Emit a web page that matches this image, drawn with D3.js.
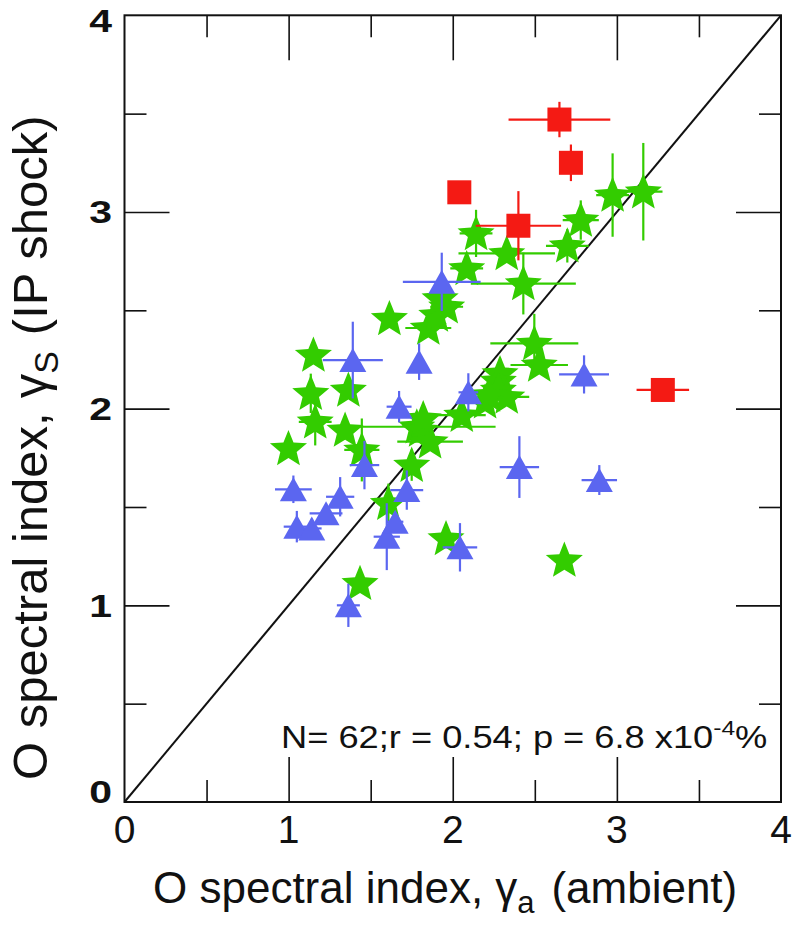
<!DOCTYPE html>
<html>
<head>
<meta charset="utf-8">
<script src="https://cdn.jsdelivr.net/npm/d3@7"></script>
<style>
  html, body { margin: 0; padding: 0; background: #fff; }
  svg { display: block; }
  text { font-family: "Liberation Sans", Arial, Helvetica, sans-serif; fill: #111; }
</style>
</head>
<body>
<svg id="chart" width="795" height="929"></svg>
<script>
// ---------- data ----------
const xTickLabels = ["0", "1", "2", "3", "4"];
const yTickLabels = ["0", "1", "2", "3", "4"];
const majorTicks = [1, 2, 3];
const minorTicks = [0.5, 1.5, 2.5, 3.5];

// Green stars
const greenX    = [2.68, 2.497, 2.527, 2.288, 2.278, 2.278, 2.329, 2.197, 2.055, 1.959, 3.161, 2.974, 2.78, 2.698, 2.142, 2.329, 2.43, 2.085, 1.963, 1.614, 1.151, 1.135, 1.364, 1.162, 1.851, 1.903, 1.923, 1.781, 0.999, 1.344, 1.446, 1.801, 1.862, 1.75, 1.608, 1.435, 2.22, 1.82];
const greenY    = [1.23, 2.332, 2.222, 2.179, 2.14, 2.095, 2.06, 2.035, 1.967, 1.34, 3.103, 3.086, 2.959, 2.828, 2.891, 2.789, 2.636, 2.713, 2.518, 2.459, 2.273, 2.078, 2.095, 1.933, 2.41, 2.476, 2.56, 1.908, 1.798, 1.891, 1.79, 1.891, 1.832, 1.713, 1.519, 1.112, 2.07, 1.95];
const greenXErr = [0, 0.268, 0.175, 0, 0, 0, 0.137, 0, 0.146, 0, 0.117, 0.1, 0.11, 0.13, 0.1, 0.294, 0.32, 0.1, 0.1, 0, 0, 0, 0, 0.1, 0.14, 0, 0, 0.48, 0, 0, 0.107, 0, 0.2, 0, 0, 0, 0, 0];
const greenYErr = [0, 0.15, 0, 0.08, 0, 0, 0, 0, 0, 0, 0.248, 0.212, 0.1, 0.085, 0.12, 0, 0.157, 0, 0, 0, 0, 0.1, 0, 0.12, 0, 0, 0, 0, 0, 0, 0.16, 0, 0, 0.08, 0.1, 0, 0, 0];

// Blue triangles
const blueX    = [2.8, 2.406, 2.893, 2.044, 2.095, 1.029, 1.05, 1.141, 1.228, 1.314, 1.462, 1.598, 1.649, 1.72, 1.364, 1.933, 1.391, 1.795, 1.673];
const blueY    = [2.174, 1.703, 1.637, 1.295, 2.083, 1.59, 1.4, 1.391, 1.468, 1.552, 1.713, 1.349, 1.425, 1.586, 1.0, 2.645, 2.247, 2.239, 2.01];
const blueXErr = [0.152, 0.12, 0.108, 0.105, 0.06, 0.112, 0.08, 0.06, 0.1, 0.086, 0.09, 0.08, 0.05, 0.1, 0.07, 0.237, 0.183, 0, 0.076];
const blueYErr = [0.097, 0.157, 0.076, 0.123, 0.097, 0.07, 0.08, 0.05, 0.05, 0.1, 0.123, 0.17, 0.05, 0.1, 0.11, 0.148, 0.195, 0.093, 0.08];

// Red squares
const redX    = [2.65, 2.72, 2.04, 2.40, 3.28];
const redY    = [3.47, 3.25, 3.10, 2.93, 2.095];
const redXErr = [0.31, 0, 0, 0.26, 0.16];
const redYErr = [0.09, 0.093, 0, 0.176, 0];

const statsText = "N= 62;r = 0.54; p = 6.8 x10";
const statsExp = "-4";
const statsTail = "%";

// ---------- layout ----------
const svg = d3.select("#chart");
const X0 = 124.5, X1 = 781, Y0 = 802, Y1 = 15.3;
const x = d3.scaleLinear().domain([0, 4]).range([X0, X1]);
const y = d3.scaleLinear().domain([0, 4]).range([Y0, Y1]);

const GREEN = "#33cc00", BLUE = "#5b66f0", RED = "#f41a14";

// ---------- ticks (inside, all 4 sides) ----------
function tickAxis(axisFn, scale, vals, size, transform) {
  const g = svg.append("g").attr("transform", transform)
    .call(axisFn(scale).tickValues(vals).tickSizeInner(size).tickSizeOuter(0).tickFormat(""));
  g.select(".domain").remove();
  g.selectAll(".tick line").attr("stroke", "#111").attr("stroke-width", 1.6);
}
tickAxis(d3.axisBottom, x, majorTicks, -45, `translate(0,${Y0})`);
tickAxis(d3.axisBottom, x, minorTicks, -22, `translate(0,${Y0})`);
tickAxis(d3.axisTop, x, majorTicks, -45, `translate(0,${Y1})`);
tickAxis(d3.axisTop, x, minorTicks, -22, `translate(0,${Y1})`);
tickAxis(d3.axisLeft, y, majorTicks, -45, `translate(${X0},0)`);
tickAxis(d3.axisLeft, y, minorTicks, -22, `translate(${X0},0)`);
tickAxis(d3.axisRight, y, majorTicks, -45, `translate(${X1},0)`);
tickAxis(d3.axisRight, y, minorTicks, -22, `translate(${X1},0)`);

// diagonal
svg.append("line")
  .attr("x1", x(0)).attr("y1", y(0)).attr("x2", x(4)).attr("y2", y(4))
  .attr("stroke", "#111").attr("stroke-width", 2);

// ---------- markers ----------
function errBars(g, xs, ys, xe, ye, color) {
  xs.forEach((v, i) => {
    if (xe[i] > 0) g.append("line").attr("x1", x(v - xe[i])).attr("x2", x(v + xe[i]))
      .attr("y1", y(ys[i])).attr("y2", y(ys[i])).attr("stroke", color).attr("stroke-width", 2.2);
    if (ye[i] > 0) g.append("line").attr("x1", x(v)).attr("x2", x(v))
      .attr("y1", y(ys[i] - ye[i])).attr("y2", y(ys[i] + ye[i])).attr("stroke", color).attr("stroke-width", 2.2);
  });
}
function starPath(R, r) {
  const pts = [];
  for (let k = 0; k < 10; k++) {
    const a = -Math.PI / 2 + k * Math.PI / 5;
    const rr = k % 2 === 0 ? R : r;
    pts.push([rr * Math.cos(a), rr * Math.sin(a)]);
  }
  return "M" + pts.map(p => p[0].toFixed(2) + "," + p[1].toFixed(2)).join("L") + "Z";
}
const STAR = starPath(19.5, 8.6);
const TRI = "M0,-12L13.5,12L-13.5,12Z";

const gG = svg.append("g");
greenX.forEach((v, i) => {
  errBars(gG, [v], [greenY[i]], [greenXErr[i]], [greenYErr[i]], GREEN);
  gG.append("path").attr("d", STAR).attr("fill", GREEN)
    .attr("transform", `translate(${x(v)},${y(greenY[i]) + 1})`);
});
const gB = svg.append("g");
blueX.forEach((v, i) => {
  errBars(gB, [v], [blueY[i]], [blueXErr[i]], [blueYErr[i]], BLUE);
  gB.append("path").attr("d", TRI).attr("fill", BLUE)
    .attr("transform", `translate(${x(v)},${y(blueY[i])})`);
});
const gR = svg.append("g");
redX.forEach((v, i) => {
  errBars(gR, [v], [redY[i]], [redXErr[i]], [redYErr[i]], RED);
  gR.append("rect").attr("x", x(v) - 12).attr("y", y(redY[i]) - 12)
    .attr("width", 24).attr("height", 24).attr("fill", RED);
});

// frame
svg.append("rect").attr("x", X0).attr("y", Y1).attr("width", X1 - X0).attr("height", Y0 - Y1)
  .attr("fill", "none").attr("stroke", "#111").attr("stroke-width", 2);

// ---------- tick labels ----------
svg.append("g").selectAll("text").data(xTickLabels).join("text")
  .attr("x", (d, i) => x(i)).attr("y", 843)
  .attr("text-anchor", "middle").attr("font-size", 39).text(d => d);

const yOff = [-11, 0, 0, 0, 5];
svg.append("g").selectAll("text").data(yTickLabels).join("text")
  .attr("transform", (d, i) => `translate(112,${y(i) + yOff[i] + 11.5}) scale(1.28,1)`)
  .attr("text-anchor", "end").attr("font-size", 32).attr("font-weight", "bold").text(d => d);

// ---------- stats annotation ----------
const st = svg.append("text").attr("transform", "translate(281,748) scale(1.17,1)").attr("font-size", 31);
st.append("tspan").text(statsText);
st.append("tspan").attr("font-size", 21).attr("dy", -13).text(statsExp);
st.append("tspan").attr("dy", 13).text(statsTail);

// ---------- axis titles ----------
const xt = svg.append("text").attr("x", 153).attr("y", 903).attr("font-size", 44);
xt.append("tspan").text("O spectral index,");
xt.append("tspan").attr("dx", 12).text("γ");
xt.append("tspan").attr("font-size", 31).attr("dy", 10).text("a");
xt.append("tspan").attr("dy", -10).attr("dx", 17).text("(ambient)");

const yt = svg.append("text").attr("transform", "translate(47,780) rotate(-90)").attr("font-size", 49);
yt.append("tspan").text("O spectral index,");
yt.append("tspan").attr("dx", 14).text("γ");
yt.append("tspan").attr("font-size", 34).attr("dy", 11).text("S");
yt.append("tspan").attr("dy", -11).attr("dx", 16).text("(IP shock)");
</script>
</body>
</html>
